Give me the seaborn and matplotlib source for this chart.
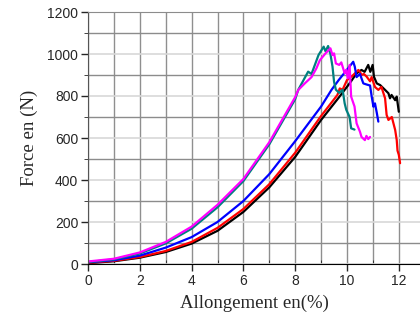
import pandas as pd
import seaborn as sns
import matplotlib.pyplot as plt
from matplotlib.ticker import MultipleLocator

# Force / elongation curves (x in %, force in N)
black_x = [0, 1, 2, 3, 4, 5, 6, 7, 8, 9, 9.66, 10.1, 10.37, 10.56, 10.68, 10.82, 10.9, 10.99, 11.04,
           11.15, 11.28, 11.47, 11.6, 11.66, 11.72, 11.86, 11.92, 12.0]
black_y = [4, 13, 30, 57, 97, 158, 248, 365, 510, 686, 789, 860, 908, 924, 915, 948, 915, 948, 892,
           860, 852, 829, 813, 789, 805, 780, 797, 725]

red_x = [0, 1, 2, 3, 4, 5, 6, 7, 8, 9, 9.63, 9.72, 9.83, 10.0, 10.2, 10.44, 10.5, 10.56, 10.65,
         10.76, 10.89, 10.95, 11.08, 11.21, 11.33, 11.47, 11.53, 11.6, 11.73, 11.86, 11.92, 11.95,
         12.0, 12.05]
red_y = [6, 15, 33, 62, 105, 172, 262, 380, 530, 705, 805, 836, 830, 876, 895, 924, 915, 900, 905,
         892, 870, 890, 843, 829, 843, 789, 710, 686, 700, 638, 590, 540,
         520, 480]

blue_x = [0, 1, 2, 3, 4, 5, 6, 7, 8, 9, 9.4, 9.68, 10.0, 10.24, 10.3, 10.37, 10.5, 10.63, 10.75,
          10.89, 10.95, 11.02, 11.08, 11.15, 11.21]
blue_y = [8, 18, 40, 78, 128, 200, 300, 428, 585, 750, 829, 876, 925, 963, 940, 890, 905, 860, 855,
          850, 800, 749, 765, 720, 678]

teal_x = [0, 1, 2, 3, 4, 5, 6, 7, 8, 8.12, 8.5, 8.63, 8.9, 9.1, 9.17, 9.27, 9.36, 9.44, 9.5, 9.57,
          9.7, 9.83, 9.91, 9.97, 10.1, 10.16, 10.29]
teal_y = [9, 22, 50, 98, 168, 270, 395, 570, 785, 830, 916, 905, 995, 1035, 1013, 1038, 1000, 940, 868, 830,
          815, 830, 765, 735, 700, 646, 640]

magenta_x = [0, 1, 2, 3, 4, 5, 6, 7, 8, 8.12, 8.37, 8.5, 8.63, 8.82, 8.95, 9.17, 9.36, 9.44, 9.5,
             9.57, 9.7, 9.78, 9.91, 9.97, 10.03, 10.1, 10.16, 10.29, 10.37, 10.5, 10.56, 10.69,
             10.75, 10.82, 10.89]
magenta_y = [12, 25, 55, 105, 178, 282, 405, 580, 795, 829, 860, 875, 890, 932, 970, 1003, 1027, 995, 1003,
             955, 948, 960, 908, 925, 884, 948, 797, 750, 670, 630, 605, 590,
             610, 595, 605]

series = {
    'black': (black_x, black_y),
    'red': (red_x, red_y),
    'blue': (blue_x, blue_y),
    'teal': (teal_x, teal_y),
    'magenta': (magenta_x, magenta_y),
}
colors = {'black': '#000000', 'red': '#ff0000', 'blue': '#0000ff',
          'teal': '#008080', 'magenta': '#ff00ff'}

df = pd.concat([pd.DataFrame({'x': xs, 'y': ys, 'sample': name})
                for name, (xs, ys) in series.items()], ignore_index=True)

sns.set_style('ticks')
plt.rcParams['font.family'] = ['Liberation Sans', 'DejaVu Sans']

fig = plt.figure(figsize=(4.2, 3.2), dpi=100)
ax = fig.add_axes([88 / 420, 56 / 320, 332 / 420, 252 / 320])

sns.lineplot(data=df, x='x', y='y', hue='sample', palette=colors,
             estimator=None, sort=False, legend=False, lw=1.6, ax=ax)

ax.set_xlim(0, 332 / 25.9)
ax.set_ylim(0, 1200)
ax.xaxis.set_major_locator(MultipleLocator(2))
ax.xaxis.set_minor_locator(MultipleLocator(1))
ax.yaxis.set_major_locator(MultipleLocator(200))
ax.yaxis.set_minor_locator(MultipleLocator(100))

# grid: major light grey, minor darker grey
ax.grid(which='major', axis='y', color='#d8d8d8', lw=1.2)
ax.grid(which='minor', axis='y', color='#8c8c8c', lw=1.0)
ax.grid(which='both', axis='x', color='#8f8f8f', lw=1.0)
ax.set_axisbelow(True)

ax.spines['right'].set_visible(False)
ax.spines['top'].set_color('#8c8c8c')
ax.spines['left'].set_color('#555555')
ax.spines['bottom'].set_color('#000000')

ax.tick_params(which='major', direction='out', length=5, width=1, labelsize=10, pad=2)
ax.tick_params(axis='x', which='minor', direction='in', length=3)
ax.tick_params(axis='y', which='minor', direction='out', length=3)

lab_font = {'family': 'Liberation Serif', 'size': 13.5}
ax.set_xlabel('Allongement en(%)', fontdict=lab_font, labelpad=5)
ax.set_ylabel('Force en (N)', fontdict=lab_font, labelpad=7)

fig.savefig('out.png', dpi=100)
